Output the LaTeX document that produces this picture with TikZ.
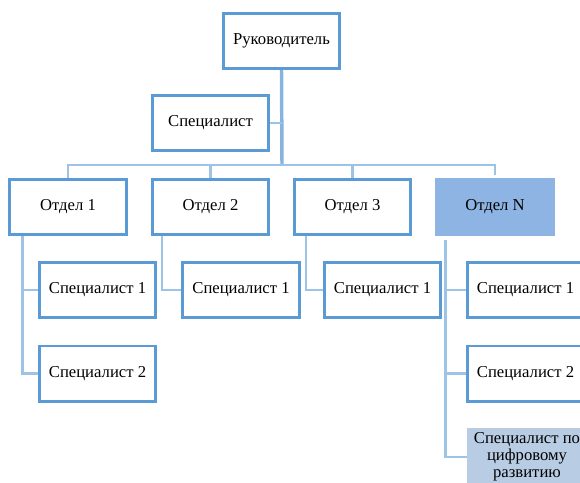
\documentclass[tikz,border=0pt]{standalone}
\usepackage{fontspec}
\setmainfont{Liberation Serif}
\usetikzlibrary{positioning,calc}
\definecolor{orgLine} {RGB}{ 91,155,213}
\definecolor{orgLink} {RGB}{157,195,230}
\definecolor{orgFill} {RGB}{141,180,226}
\definecolor{orgFillL}{RGB}{184,204,228}

\begin{document}
\begin{tikzpicture}[
  x=0.75pt,y=-0.75pt,
  font=\fontsize{12.5}{12.75}\selectfont,
  box/.style={rectangle,draw=orgLine,line width=2pt,fill=white,
              minimum width=87.3pt,minimum height=41.5pt,
              inner sep=1pt,align=center},
  boxN/.style={box,draw=orgFill,fill=orgFill},
  boxD/.style={box,draw=orgFillL,fill=orgFillL},
  link/.style={draw=orgLink,line width=1.7pt},
  trunk/.style={draw=orgLine!75,line width=2.6pt}
]
% Geometry: 1px of the sheet = 0.75pt, y runs downwards.
\useasboundingbox (0,0) rectangle (580,482);
\def\rowA{207}     % departments
\def\rowB{290}     % first specialist row
\def\rowC{373.5}   % second specialist row
\def\rowD{457}     % third specialist row

% --- Head and staff
\node[box] (ruk) at (281.5,41) {Руководитель};
\node[box] (spec) at (210.5,123) {Специалист};
\coordinate (bus) at (282,165);

% --- Departments
\node[box]  (otd1) at (68,\rowA)    {Отдел 1};
\node[box]  (otd2) at (210.5,\rowA) {Отдел 2};
\node[box]  (otd3) at (352.5,\rowA) {Отдел 3};
\node[boxN] (otdN) at (495,206.5)   {Отдел N};

% --- Specialists
\node[box]  (s11) at (97.5,\rowB)  {Специалист 1};
\node[box]  (s12) at (97.5,\rowC)  {Специалист 2};
\node[box]  (s21) at (241,\rowB)   {Специалист 1};
\node[box]  (s31) at (382.5,\rowB) {Специалист 1};
\node[box]  (sN1) at (525.5,\rowB) {Специалист 1};
\node[box]  (sN2) at (525.5,\rowC) {Специалист 2};
\node[boxD] (sNd) at (527,\rowD)   {Специалист по\\цифровому\\развитию};

% --- Connectors
\draw[trunk] (ruk.south) -- (bus);
\draw[link] (spec.east) -- (spec.east -| bus);
\draw[link,shorten >=2pt] (otd1.north) |- (bus) -| (otdN.north);
\draw[link] (otd2.north) -- (otd2.north |- bus);
\draw[link] (otd3.north) -- (otd3.north |- bus);

\coordinate (v1) at ([xshift=10.5pt]otd1.south west);
\coordinate (v2) at ([xshift=8.3pt]otd2.south west);
\coordinate (v3) at ([xshift=9.8pt]otd3.south west);
\coordinate (vN) at ([xshift=7.5pt,yshift=-3pt]otdN.south west);
\draw[link] (v1) |- (s11.west);
\draw[link] (v1) |- (s12.west);
\draw[link] (v2) |- (s21.west);
\draw[link] (v3) |- (s31.west);
\draw[link] (vN) |- (sN1.west);
\draw[link] (vN) |- (sN2.west);
\draw[link] (vN) |- (sNd.west);
\end{tikzpicture}
\end{document}
